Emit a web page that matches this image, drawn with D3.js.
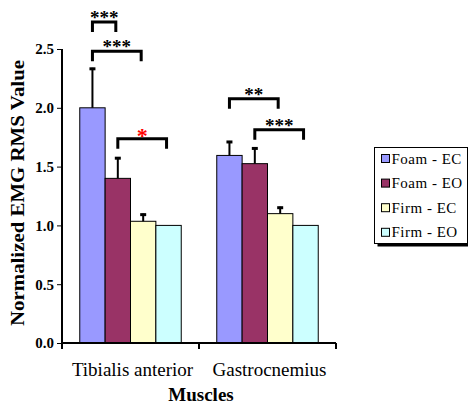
<!DOCTYPE html>
<html>
<head>
<meta charset="utf-8">
<script src="https://cdn.jsdelivr.net/npm/d3@7"></script>
<style>
  body { margin: 0; background: #fff; }
  svg { display: block; }
</style>
</head>
<body>
<svg id="chart"></svg>
<script>
const width = 468;
const height = 405;
const font = '"Liberation Serif"';

// data
const muscles = ['Tibialis anterior', 'Gastrocnemius'];
const conditions = ['Foam - EC', 'Foam - EO', 'Firm - EC', 'Firm - EO'];
const tibialisMean = [2.00, 1.40, 1.035, 1.00];
const tibialisErr = [0.34, 0.18, 0.065, 0];
const gastroMean = [1.595, 1.525, 1.10, 1.00];
const gastroErr = [0.123, 0.138, 0.059, 0];
const yTicks = [0, 0.5, 1.0, 1.5, 2.0, 2.5];
const colors = ['#9999FF', '#993366', '#FFFFCC', '#CCFFFF'];

// significance brackets: muscle, bar a, bar b, level (value units), stars
const sigMuscle = ['Tibialis anterior', 'Tibialis anterior', 'Tibialis anterior', 'Gastrocnemius', 'Gastrocnemius'];
const sigFrom = [0, 0, 1, 0, 1];
const sigTo = [1, 2, 3, 2, 3];
const sigLevel = [2.73, 2.48, 1.737, 2.077, 1.814];
const sigLabel = ['***', '***', '*', '**', '***'];

const svg = d3.select('#chart')
    .attr('width', width)
    .attr('height', height);

const x0 = d3.scaleBand().domain(muscles).range([62, 336]);
const x1 = d3.scaleBand().domain(conditions).range([0, x0.bandwidth()])
            .paddingInner(0).paddingOuter(0.7);
const y = d3.scaleLinear().domain([0, 2.5]).range([343, 49]);
const color = d3.scaleOrdinal().domain(conditions).range(colors);

const rows = [];
muscles.forEach((m, i) => {
    const means = i === 0 ? tibialisMean : gastroMean;
    const errs = i === 0 ? tibialisErr : gastroErr;
    conditions.forEach((c, j) => rows.push({muscle: m, cond: c, mean: means[j], err: errs[j]}));
});
const barMid = d => x0(d.muscle) + x1(d.cond) + x1.bandwidth() / 2;

// bars
svg.append('g').selectAll('rect')
    .data(rows)
    .enter()
    .append('rect')
    .attr('x', d => x0(d.muscle) + x1(d.cond))
    .attr('y', d => y(d.mean))
    .attr('width', x1.bandwidth())
    .attr('height', d => y(0) - y(d.mean))
    .style('fill', d => color(d.cond))
    .style('stroke', '#000')
    .style('stroke-width', 1);

// error bars (upper only)
const errG = svg.append('g').selectAll('g')
    .data(rows.filter(d => d.err > 0))
    .enter()
    .append('g');
errG.append('line')
    .attr('x1', barMid).attr('x2', barMid)
    .attr('y1', d => y(d.mean))
    .attr('y2', d => y(d.mean + d.err))
    .style('stroke', '#000')
    .style('stroke-width', 2);
errG.append('line')
    .attr('x1', d => barMid(d) - 3)
    .attr('x2', d => barMid(d) + 3)
    .attr('y1', d => y(d.mean + d.err) + 1)
    .attr('y2', d => y(d.mean + d.err) + 1)
    .style('stroke', '#000')
    .style('stroke-width', 3);

// y axis
const yAxis = svg.append('g')
    .attr('transform', 'translate(62,0)')
    .call(d3.axisLeft(y).tickValues(yTicks).tickFormat(d3.format('.1f')).tickSize(5).tickPadding(3));
yAxis.select('.domain').attr('d', `M0,${y(2.5)}V${y(0)}`).style('stroke-width', 2);
yAxis.selectAll('.tick text')
    .attr('fill', '#000')
    .attr('font-family', font)
    .attr('font-size', 15)
    .attr('font-weight', 'bold');

// x axis: line with ticks at category boundaries
const xAxis = svg.append('g').attr('transform', `translate(0,${y(0)})`);
xAxis.append('line')
    .attr('x1', x0.range()[0]).attr('x2', x0.range()[1])
    .style('stroke', '#000').style('stroke-width', 2);
const bounds = muscles.map(m => x0(m)).concat([x0.range()[1]]);
xAxis.selectAll('.bound')
    .data(bounds)
    .enter()
    .append('line')
    .attr('class', 'bound')
    .attr('x1', d => d).attr('x2', d => d)
    .attr('y1', 0).attr('y2', 6)
    .style('stroke', '#000').style('stroke-width', 2);
xAxis.selectAll('text')
    .data(muscles)
    .enter()
    .append('text')
    .attr('x', d => x0(d) + x0.bandwidth() / 2 + 2)
    .attr('y', 33)
    .attr('text-anchor', 'middle')
    .attr('font-family', font)
    .attr('font-size', 19)
    .text(d => d);

// axis titles
svg.append('text')
    .attr('x', 201)
    .attr('y', 401)
    .attr('text-anchor', 'middle')
    .attr('font-family', font)
    .attr('font-size', 19)
    .attr('font-weight', 'bold')
    .text('Muscles');

svg.append('text')
    .attr('transform', 'translate(24,193) rotate(-90)')
    .attr('text-anchor', 'middle')
    .attr('textLength', 266)
    .attr('lengthAdjust', 'spacingAndGlyphs')
    .attr('font-family', font)
    .attr('font-size', 18)
    .attr('font-weight', 'bold')
    .text('Normalized EMG RMS Value');

// significance brackets
const sig = svg.append('g');
sigLabel.forEach((lab, i) => {
    const xa = x0(sigMuscle[i]) + x1(conditions[sigFrom[i]]) + x1.bandwidth() / 2;
    const xb = x0(sigMuscle[i]) + x1(conditions[sigTo[i]]) + x1.bandwidth() / 2 - 2;
    const yl = y(sigLevel[i]);
    sig.append('path')
        .attr('d', `M${xa},${yl + 10}V${yl}H${xb}V${yl + 10}`)
        .style('fill', 'none')
        .style('stroke', '#000')
        .style('stroke-width', 3);
    const red = lab === '*';
    sig.append('text')
        .attr('x', (xa + xb) / 2)
        .attr('y', red ? yl + 4 : yl + 2)
        .attr('text-anchor', 'middle')
        .attr('font-family', font)
        .attr('font-size', red ? 22 : 19)
        .attr('font-weight', 'bold')
        .attr('fill', red ? '#FF0000' : '#000')
        .text(lab);
});

// legend
const legend = svg.append('g').attr('transform', 'translate(374.5,147.5)');
legend.append('rect')
    .attr('x', 3).attr('y', 3)
    .attr('width', 93).attr('height', 96)
    .style('fill', '#000');
legend.append('rect')
    .attr('width', 93).attr('height', 96)
    .style('fill', '#fff')
    .style('stroke', '#000')
    .style('stroke-width', 1);
const item = legend.selectAll('.item')
    .data(conditions)
    .enter()
    .append('g')
    .attr('class', 'item')
    .attr('transform', (d, i) => `translate(7,${7 + i * 24.6})`);
item.append('rect')
    .attr('width', 8).attr('height', 8)
    .style('fill', d => color(d))
    .style('stroke', '#000')
    .style('stroke-width', 1);
item.append('text')
    .attr('x', 10)
    .attr('y', 9)
    .attr('font-family', font)
    .attr('font-size', 15)
    .attr('letter-spacing', 0.5)
    .text(d => d);
</script>
</body>
</html>
